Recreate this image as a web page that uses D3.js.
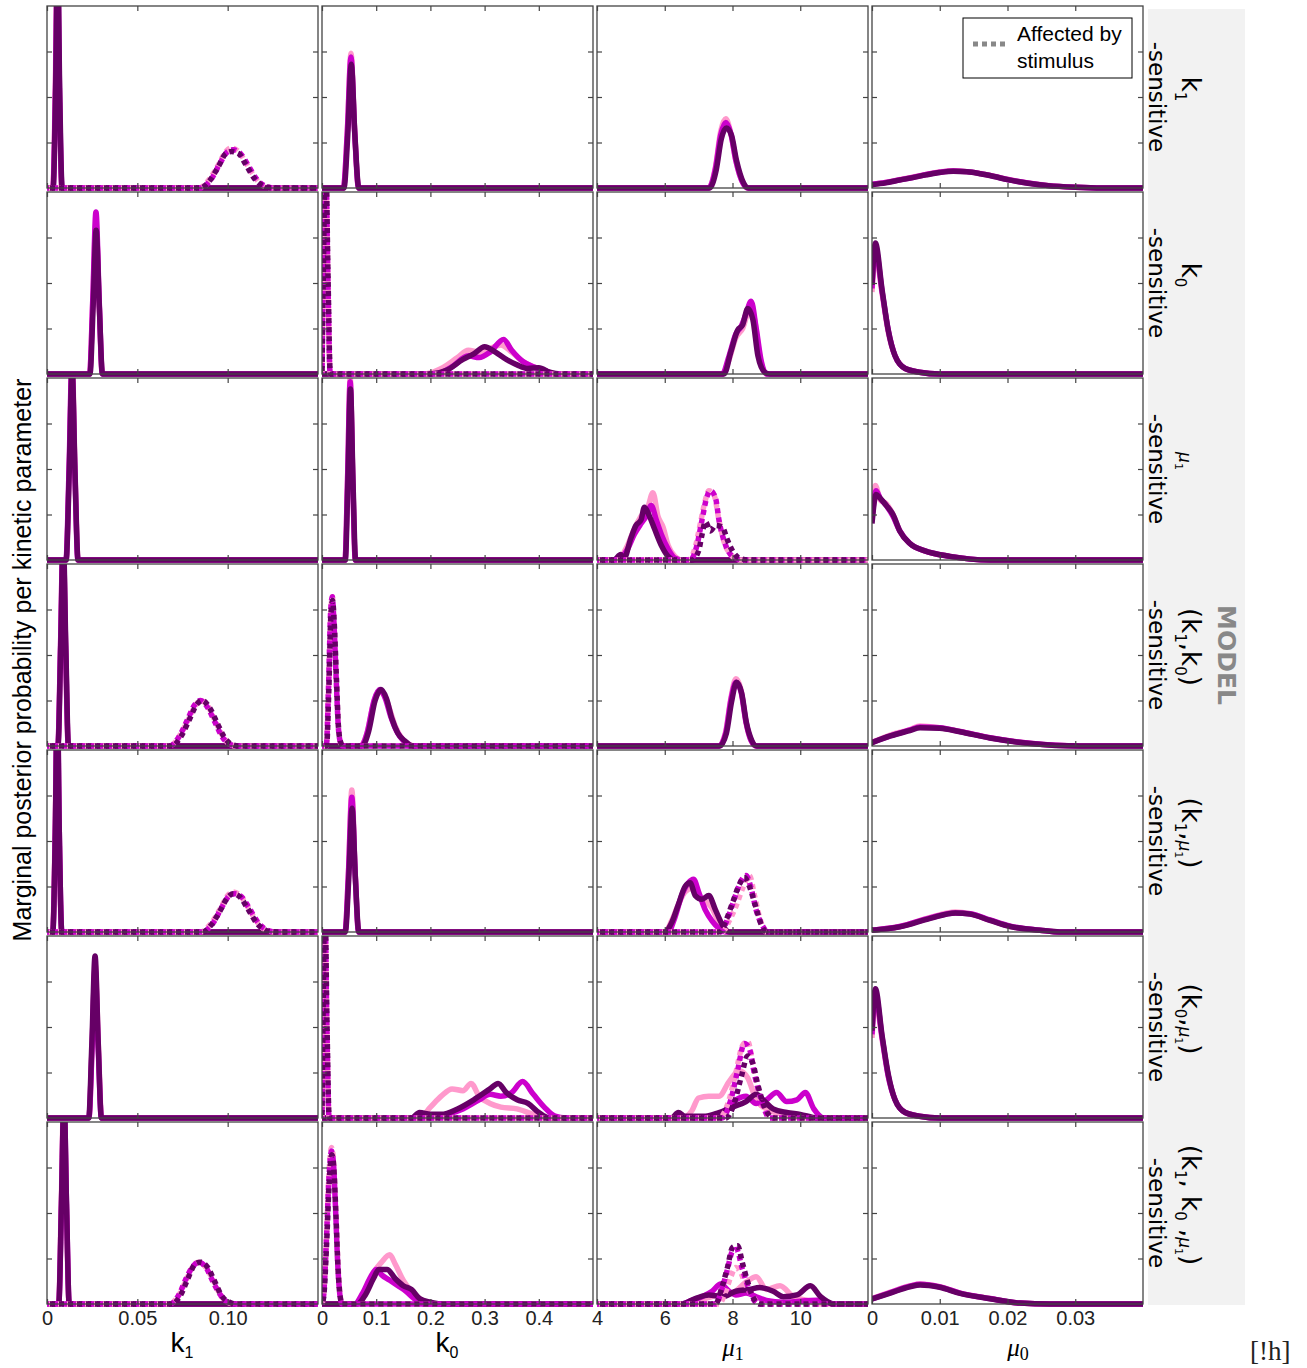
<!DOCTYPE html>
<html>
<head>
<meta charset="utf-8">
<script src="https://cdn.jsdelivr.net/npm/d3@7"></script>
<style>
  body { margin: 0; background: #fff; }
</style>
</head>
<body>
<div id="chart"></div>
<script>
// ---- data ----
const seriesNames = ["run 1", "run 2", "run 3"];
const seriesColors = ["#ff99cc", "#cc00cc", "#660066"];

const params = ["k1", "k0", "mu1", "mu0"];
const xDomains = [[0, 0.15], [0, 0.5], [4, 12], [0, 0.04]];
const xTicks = [[0, 0.05, 0.10], [0, 0.1, 0.2, 0.3, 0.4], [4, 6, 8, 10], [0, 0.01, 0.02, 0.03]];
const xTickLabels = [["0", "0.05", "0.10"], ["0", "0.1", "0.2", "0.3", "0.4"], ["4", "6", "8", "10"], ["0", "0.01", "0.02", "0.03"]];
const yTicks = [0.25, 0.5, 0.75];

// row labels, as [text, kind] pieces
const modelLabels = [
  [["k", ""], ["1", "sub"]],
  [["k", ""], ["0", "sub"]],
  [["μ", "mu"], ["1", "musub"]],
  [["(k", ""], ["1", "sub"], [",k", ""], ["0", "sub"], [")", ""]],
  [["(k", ""], ["1", "sub"], [",", ""], ["μ", "mu"], ["1", "musub"], [")", ""]],
  [["(k", ""], ["0", "sub"], [",", ""], ["μ", "mu"], ["1", "musub"], [")", ""]],
  [["(k", ""], ["1", "sub"], [", k", ""], ["0", "sub"], [" ,", ""], ["μ", "mu"], ["1", "musub"], [")", ""]]
];

// curves: [row, series, dotted, [[x, relative density], ...]]
const k1Curves = [
  [0,0,0,[[0,0],[0.0032,0],[0.0046,0.55],[0.0057,1.3],[0.0068,0.55],[0.0082,0],[0.15,0]]],
  [0,1,0,[[0,0],[0.0033,0],[0.0047,0.55],[0.0058,1.3],[0.0069,0.55],[0.0083,0],[0.15,0]]],
  [0,2,0,[[0,0],[0.0034,0],[0.0048,0.55],[0.0059,1.3],[0.007,0.55],[0.0084,0],[0.15,0]]],
  [0,0,1,[[0,0],[0.084,0],[0.09,0.05],[0.095,0.13],[0.099,0.2],[0.102,0.22],[0.106,0.2],[0.11,0.14],[0.115,0.06],[0.12,0.01],[0.125,0],[0.15,0]]],
  [0,1,1,[[0,0],[0.085,0],[0.091,0.05],[0.096,0.14],[0.1,0.2],[0.103,0.21],[0.107,0.19],[0.111,0.13],[0.116,0.05],[0.121,0.01],[0.126,0],[0.15,0]]],
  [0,2,1,[[0,0],[0.085,0],[0.09,0.04],[0.095,0.12],[0.099,0.19],[0.102,0.2],[0.106,0.19],[0.11,0.13],[0.115,0.05],[0.12,0.01],[0.125,0],[0.15,0]]],
  [1,0,0,[[0,0],[0.0236,0],[0.0253,0.38],[0.0271,0.83],[0.0289,0.38],[0.0306,0],[0.15,0]]],
  [1,1,0,[[0,0],[0.0236,0],[0.0253,0.4],[0.0271,0.89],[0.0289,0.4],[0.0306,0],[0.15,0]]],
  [1,2,0,[[0,0],[0.0238,0],[0.0255,0.36],[0.0272,0.79],[0.029,0.36],[0.0307,0],[0.15,0]]],
  [2,0,0,[[0,0],[0.0106,0],[0.0123,0.5],[0.0139,1.1],[0.0155,0.5],[0.0172,0],[0.15,0]]],
  [2,1,0,[[0,0],[0.0105,0],[0.0122,0.5],[0.0138,1.08],[0.0154,0.5],[0.0171,0],[0.15,0]]],
  [2,2,0,[[0,0],[0.0106,0],[0.0123,0.48],[0.0139,1.05],[0.0155,0.48],[0.0172,0],[0.15,0]]],
  [3,0,0,[[0,0],[0.006,0],[0.0075,0.55],[0.0089,1.15],[0.0103,0.55],[0.0118,0],[0.15,0]]],
  [3,1,0,[[0,0],[0.006,0],[0.0075,0.55],[0.0089,1.15],[0.0103,0.55],[0.0118,0],[0.15,0]]],
  [3,2,0,[[0,0],[0.0061,0],[0.0076,0.55],[0.009,1.15],[0.0104,0.55],[0.0119,0],[0.15,0]]],
  [3,0,1,[[0,0],[0.068,0],[0.073,0.05],[0.078,0.14],[0.082,0.22],[0.085,0.25],[0.089,0.22],[0.093,0.14],[0.097,0.06],[0.101,0.01],[0.105,0],[0.15,0]]],
  [3,1,1,[[0,0],[0.068,0],[0.073,0.05],[0.078,0.15],[0.082,0.23],[0.085,0.25],[0.089,0.21],[0.093,0.13],[0.097,0.05],[0.101,0.01],[0.105,0],[0.15,0]]],
  [3,2,1,[[0,0],[0.069,0],[0.074,0.05],[0.079,0.15],[0.083,0.23],[0.086,0.25],[0.09,0.21],[0.094,0.13],[0.098,0.05],[0.102,0.01],[0.106,0],[0.15,0]]],
  [4,0,0,[[0,0],[0.0031,0],[0.0045,0.55],[0.0056,1.3],[0.0067,0.55],[0.0081,0],[0.15,0]]],
  [4,1,0,[[0,0],[0.0032,0],[0.0046,0.55],[0.0057,1.3],[0.0068,0.55],[0.0082,0],[0.15,0]]],
  [4,2,0,[[0,0],[0.0032,0],[0.0046,0.55],[0.0057,1.3],[0.0068,0.55],[0.0082,0],[0.15,0]]],
  [4,0,1,[[0,0],[0.085,0],[0.091,0.05],[0.096,0.13],[0.1,0.2],[0.103,0.22],[0.107,0.2],[0.111,0.14],[0.116,0.06],[0.121,0.01],[0.126,0],[0.15,0]]],
  [4,1,1,[[0,0],[0.086,0],[0.092,0.05],[0.097,0.14],[0.101,0.2],[0.104,0.21],[0.108,0.19],[0.112,0.13],[0.117,0.05],[0.122,0.01],[0.127,0],[0.15,0]]],
  [4,2,1,[[0,0],[0.086,0],[0.091,0.04],[0.096,0.12],[0.1,0.19],[0.103,0.21],[0.107,0.19],[0.111,0.13],[0.116,0.05],[0.121,0.01],[0.126,0],[0.15,0]]],
  [5,0,0,[[0,0],[0.0232,0],[0.0249,0.38],[0.0267,0.84],[0.0285,0.38],[0.0302,0],[0.15,0]]],
  [5,1,0,[[0,0],[0.0232,0],[0.0249,0.37],[0.0266,0.82],[0.0284,0.37],[0.0301,0],[0.15,0]]],
  [5,2,0,[[0,0],[0.0231,0],[0.0248,0.4],[0.0266,0.89],[0.0284,0.4],[0.0301,0],[0.15,0]]],
  [6,0,0,[[0,0],[0.0064,0],[0.0079,0.55],[0.0093,1.15],[0.0107,0.55],[0.0122,0],[0.15,0]]],
  [6,1,0,[[0,0],[0.0065,0],[0.008,0.55],[0.0094,1.15],[0.0108,0.55],[0.0123,0],[0.15,0]]],
  [6,2,0,[[0,0],[0.0065,0],[0.008,0.55],[0.0094,1.15],[0.0108,0.55],[0.0123,0],[0.15,0]]],
  [6,0,1,[[0,0],[0.068,0],[0.073,0.05],[0.077,0.13],[0.081,0.21],[0.084,0.23],[0.088,0.2],[0.092,0.13],[0.096,0.05],[0.1,0.01],[0.104,0],[0.15,0]]],
  [6,1,1,[[0,0],[0.068,0],[0.073,0.05],[0.077,0.14],[0.081,0.21],[0.084,0.23],[0.088,0.2],[0.092,0.12],[0.096,0.05],[0.1,0.01],[0.104,0],[0.15,0]]],
  [6,2,1,[[0,0],[0.069,0],[0.074,0.05],[0.078,0.14],[0.082,0.22],[0.085,0.23],[0.089,0.2],[0.093,0.12],[0.097,0.04],[0.101,0.01],[0.105,0],[0.15,0]]]
];

const k0Curves = [
  [0,0,0,[[0,0],[0.0395,0],[0.0468,0.32],[0.0535,0.74],[0.0602,0.32],[0.0675,0],[0.5,0]]],
  [0,1,0,[[0,0],[0.0395,0],[0.0468,0.31],[0.0535,0.72],[0.0602,0.31],[0.0675,0],[0.5,0]]],
  [0,2,0,[[0,0],[0.0405,0],[0.0475,0.29],[0.054,0.68],[0.0607,0.29],[0.068,0],[0.5,0]]],
  [1,0,0,[[0,0],[0.19,0],[0.22,0.03],[0.25,0.09],[0.27,0.13],[0.29,0.12],[0.31,0.14],[0.33,0.16],[0.35,0.12],[0.37,0.07],[0.39,0.04],[0.41,0.02],[0.43,0],[0.5,0]]],
  [1,1,0,[[0,0],[0.21,0],[0.24,0.04],[0.27,0.1],[0.29,0.09],[0.31,0.12],[0.335,0.19],[0.35,0.13],[0.37,0.07],[0.39,0.04],[0.41,0.02],[0.43,0],[0.5,0]]],
  [1,2,0,[[0,0],[0.2,0],[0.23,0.02],[0.26,0.08],[0.28,0.11],[0.3,0.15],[0.32,0.12],[0.34,0.08],[0.36,0.05],[0.38,0.03],[0.4,0.035],[0.42,0.01],[0.44,0],[0.5,0]]],
  [1,0,1,[[0,0],[0.002,0.5],[0.0065,1.2],[0.011,0.5],[0.015,0],[0.5,0]]],
  [1,1,1,[[0,0],[0.002,0.5],[0.0065,1.2],[0.011,0.5],[0.015,0],[0.5,0]]],
  [1,2,1,[[0,0],[0.0022,0.5],[0.0068,1.2],[0.0113,0.5],[0.0153,0],[0.5,0]]],
  [2,0,0,[[0,0],[0.0425,0],[0.0472,0.45],[0.052,1.0],[0.0568,0.45],[0.0615,0],[0.5,0]]],
  [2,1,0,[[0,0],[0.0425,0],[0.0472,0.44],[0.052,0.98],[0.0568,0.44],[0.0615,0],[0.5,0]]],
  [2,2,0,[[0,0],[0.043,0],[0.0477,0.42],[0.0525,0.94],[0.0573,0.42],[0.062,0],[0.5,0]]],
  [3,0,0,[[0,0],[0.07,0],[0.082,0.06],[0.094,0.22],[0.105,0.3],[0.115,0.28],[0.125,0.2],[0.135,0.11],[0.148,0.04],[0.16,0.01],[0.17,0],[0.5,0]]],
  [3,1,0,[[0,0],[0.072,0],[0.084,0.08],[0.096,0.25],[0.107,0.31],[0.117,0.26],[0.127,0.16],[0.138,0.08],[0.15,0.03],[0.165,0],[0.5,0]]],
  [3,2,0,[[0,0],[0.074,0],[0.086,0.08],[0.098,0.25],[0.109,0.31],[0.119,0.26],[0.129,0.15],[0.14,0.07],[0.152,0.03],[0.168,0],[0.5,0]]],
  [3,0,1,[[0,0],[0.008,0],[0.012,0.3],[0.016,0.72],[0.019,0.82],[0.022,0.7],[0.026,0.4],[0.03,0.12],[0.034,0.02],[0.038,0],[0.5,0]]],
  [3,1,1,[[0,0],[0.008,0],[0.012,0.32],[0.016,0.74],[0.019,0.82],[0.022,0.68],[0.026,0.38],[0.03,0.11],[0.034,0.02],[0.038,0],[0.5,0]]],
  [3,2,1,[[0,0],[0.0085,0],[0.0125,0.3],[0.0165,0.72],[0.0195,0.8],[0.0225,0.68],[0.0265,0.38],[0.0305,0.1],[0.0345,0.02],[0.0385,0],[0.5,0]]],
  [4,0,0,[[0,0],[0.0425,0],[0.0488,0.33],[0.055,0.78],[0.0612,0.33],[0.0675,0],[0.5,0]]],
  [4,1,0,[[0,0],[0.0425,0],[0.0488,0.32],[0.055,0.74],[0.0612,0.32],[0.0675,0],[0.5,0]]],
  [4,2,0,[[0,0],[0.043,0],[0.0493,0.29],[0.0555,0.68],[0.0617,0.29],[0.068,0],[0.5,0]]],
  [5,0,0,[[0,0],[0.18,0],[0.2,0.06],[0.22,0.12],[0.24,0.16],[0.26,0.15],[0.275,0.19],[0.29,0.12],[0.31,0.08],[0.33,0.06],[0.36,0.05],[0.39,0.02],[0.42,0],[0.5,0]]],
  [5,1,0,[[0,0],[0.2,0],[0.23,0.02],[0.26,0.05],[0.29,0.1],[0.31,0.13],[0.33,0.12],[0.35,0.14],[0.37,0.2],[0.39,0.13],[0.41,0.06],[0.43,0.01],[0.45,0],[0.5,0]]],
  [5,2,0,[[0,0],[0.165,0],[0.18,0.03],[0.2,0.02],[0.22,0.02],[0.25,0.05],[0.28,0.1],[0.31,0.16],[0.325,0.19],[0.34,0.14],[0.36,0.1],[0.38,0.08],[0.4,0.03],[0.42,0],[0.5,0]]],
  [5,0,1,[[0,0],[0.0015,0.5],[0.005,1.2],[0.009,0.5],[0.013,0],[0.5,0]]],
  [5,1,1,[[0,0],[0.0015,0.5],[0.005,1.2],[0.009,0.5],[0.013,0],[0.5,0]]],
  [5,2,1,[[0,0],[0.0017,0.5],[0.0053,1.2],[0.0093,0.5],[0.0133,0],[0.5,0]]],
  [6,0,0,[[0,0],[0.065,0],[0.08,0.06],[0.095,0.17],[0.11,0.23],[0.125,0.27],[0.135,0.22],[0.15,0.13],[0.165,0.07],[0.18,0.03],[0.2,0],[0.5,0]]],
  [6,1,0,[[0,0],[0.06,0],[0.075,0.06],[0.09,0.15],[0.1,0.19],[0.11,0.16],[0.125,0.13],[0.14,0.1],[0.155,0.07],[0.17,0.03],[0.19,0],[0.5,0]]],
  [6,2,0,[[0,0],[0.065,0],[0.08,0.05],[0.095,0.14],[0.105,0.19],[0.12,0.19],[0.135,0.14],[0.15,0.1],[0.165,0.08],[0.18,0.03],[0.2,0.01],[0.22,0],[0.5,0]]],
  [6,0,1,[[0,0],[0.003,0.05],[0.008,0.35],[0.013,0.72],[0.0175,0.86],[0.021,0.8],[0.025,0.55],[0.029,0.25],[0.033,0.06],[0.037,0],[0.5,0]]],
  [6,1,1,[[0,0],[0.003,0.05],[0.008,0.34],[0.013,0.7],[0.0175,0.84],[0.021,0.78],[0.025,0.52],[0.029,0.22],[0.033,0.05],[0.037,0],[0.5,0]]],
  [6,2,1,[[0,0],[0.0035,0.05],[0.0085,0.33],[0.0135,0.68],[0.018,0.82],[0.0215,0.76],[0.0255,0.5],[0.0295,0.2],[0.0335,0.04],[0.0375,0],[0.5,0]]]
];

const mu1Curves = [
  [0,0,0,[[4,0],[7.3,0],[7.5,0.12],[7.65,0.31],[7.8,0.38],[7.95,0.3],[8.1,0.15],[8.3,0.03],[8.45,0],[12,0]]],
  [0,1,0,[[4,0],[7.3,0],[7.5,0.11],[7.65,0.29],[7.8,0.36],[7.95,0.3],[8.1,0.15],[8.3,0.03],[8.45,0],[12,0]]],
  [0,2,0,[[4,0],[7.32,0],[7.52,0.1],[7.67,0.27],[7.82,0.33],[7.97,0.29],[8.12,0.15],[8.32,0.03],[8.47,0],[12,0]]],
  [1,0,0,[[4,0],[7.7,0],[7.9,0.08],[8.1,0.2],[8.3,0.25],[8.5,0.35],[8.65,0.3],[8.8,0.1],[9.0,0],[12,0]]],
  [1,1,0,[[4,0],[7.7,0],[7.9,0.1],[8.1,0.22],[8.25,0.26],[8.4,0.33],[8.55,0.4],[8.7,0.25],[8.85,0.07],[9.0,0],[12,0]]],
  [1,2,0,[[4,0],[7.75,0],[7.95,0.12],[8.15,0.24],[8.3,0.27],[8.45,0.36],[8.6,0.3],[8.75,0.1],[8.95,0.01],[9.1,0],[12,0]]],
  [2,0,0,[[4,0],[4.6,0],[4.9,0.08],[5.1,0.17],[5.3,0.24],[5.5,0.29],[5.65,0.37],[5.8,0.24],[5.95,0.18],[6.1,0.08],[6.3,0.02],[6.5,0],[12,0]]],
  [2,1,0,[[4,0],[4.6,0],[4.9,0.06],[5.1,0.14],[5.3,0.2],[5.45,0.24],[5.6,0.3],[5.75,0.22],[5.9,0.14],[6.1,0.06],[6.3,0.01],[6.5,0],[12,0]]],
  [2,2,0,[[4,0],[4.5,0],[4.7,0.03],[4.8,0.01],[5.0,0.12],[5.15,0.19],[5.3,0.22],[5.4,0.29],[5.55,0.24],[5.7,0.17],[5.9,0.08],[6.1,0.02],[6.3,0],[12,0]]],
  [2,0,1,[[4,0],[6.7,0],[6.9,0.07],[7.05,0.2],[7.2,0.33],[7.3,0.38],[7.45,0.36],[7.6,0.22],[7.75,0.1],[7.95,0.03],[8.2,0],[12,0]]],
  [2,1,1,[[4,0],[6.75,0],[6.95,0.08],[7.1,0.22],[7.25,0.35],[7.35,0.38],[7.5,0.34],[7.6,0.22],[7.8,0.08],[8.0,0.02],[8.3,0],[12,0]]],
  [2,2,1,[[4,0],[6.8,0],[7.0,0.05],[7.1,0.14],[7.2,0.21],[7.35,0.16],[7.5,0.19],[7.7,0.18],[7.85,0.11],[8.0,0.05],[8.2,0.01],[8.5,0],[12,0]]],
  [3,0,0,[[4,0],[7.6,0],[7.8,0.08],[7.95,0.26],[8.1,0.37],[8.25,0.31],[8.4,0.13],[8.55,0.03],[8.7,0],[12,0]]],
  [3,1,0,[[4,0],[7.6,0],[7.8,0.07],[7.95,0.25],[8.1,0.35],[8.25,0.3],[8.4,0.13],[8.55,0.03],[8.7,0],[12,0]]],
  [3,2,0,[[4,0],[7.62,0],[7.82,0.07],[7.97,0.24],[8.12,0.35],[8.27,0.29],[8.42,0.12],[8.57,0.03],[8.72,0],[12,0]]],
  [4,0,0,[[4,0],[6.0,0],[6.2,0.06],[6.4,0.15],[6.6,0.22],[6.8,0.24],[7.0,0.2],[7.2,0.17],[7.4,0.13],[7.6,0.05],[7.8,0],[12,0]]],
  [4,1,0,[[4,0],[6.1,0],[6.3,0.08],[6.5,0.2],[6.7,0.27],[6.85,0.29],[7.0,0.22],[7.2,0.12],[7.4,0.06],[7.6,0.02],[7.8,0],[12,0]]],
  [4,2,0,[[4,0],[6.0,0],[6.2,0.05],[6.4,0.15],[6.6,0.25],[6.75,0.27],[6.9,0.2],[7.1,0.18],[7.3,0.2],[7.5,0.12],[7.7,0.04],[7.9,0],[12,0]]],
  [4,0,1,[[4,0],[7.7,0],[7.9,0.06],[8.1,0.14],[8.3,0.24],[8.5,0.31],[8.65,0.2],[8.8,0.08],[9.0,0],[12,0]]],
  [4,1,1,[[4,0],[7.65,0],[7.85,0.07],[8.05,0.18],[8.25,0.28],[8.4,0.31],[8.55,0.24],[8.7,0.12],[8.9,0.03],[9.05,0],[12,0]]],
  [4,2,1,[[4,0],[7.6,0],[7.8,0.06],[8.0,0.16],[8.2,0.26],[8.35,0.3],[8.5,0.25],[8.7,0.13],[8.85,0.04],[9.0,0],[12,0]]],
  [5,0,0,[[4,0],[6.5,0],[6.8,0.04],[7.0,0.11],[7.3,0.12],[7.6,0.12],[7.9,0.2],[8.2,0.26],[8.45,0.22],[8.7,0.1],[9.0,0.05],[9.5,0.02],[10,0],[12,0]]],
  [5,1,0,[[4,0],[7.3,0],[7.7,0.03],[8.1,0.1],[8.4,0.12],[8.7,0.08],[9.0,0.1],[9.3,0.14],[9.6,0.09],[9.9,0.1],[10.15,0.14],[10.4,0.05],[10.7,0],[12,0]]],
  [5,2,0,[[4,0],[6.2,0],[6.4,0.03],[6.6,0.01],[7.2,0.01],[7.6,0.03],[8.0,0.06],[8.4,0.09],[8.7,0.13],[8.9,0.1],[9.2,0.05],[9.6,0.03],[10.0,0.02],[10.5,0],[12,0]]],
  [5,0,1,[[4,0],[7.6,0],[7.9,0.1],[8.1,0.25],[8.3,0.4],[8.45,0.42],[8.6,0.3],[8.8,0.12],[9.0,0.03],[9.2,0],[12,0]]],
  [5,1,1,[[4,0],[7.7,0],[7.95,0.1],[8.15,0.26],[8.35,0.41],[8.5,0.38],[8.65,0.24],[8.85,0.1],[9.1,0],[12,0]]],
  [5,2,1,[[4,0],[7.8,0],[8.05,0.08],[8.25,0.22],[8.45,0.34],[8.6,0.3],[8.75,0.18],[8.95,0.06],[9.2,0],[12,0]]],
  [6,0,0,[[4,0],[6.7,0],[7.2,0.03],[7.6,0.05],[8.0,0.06],[8.4,0.12],[8.7,0.15],[9.0,0.08],[9.4,0.1],[9.8,0.04],[10.2,0.02],[10.6,0],[12,0]]],
  [6,1,0,[[4,0],[6.5,0],[6.8,0.02],[7.1,0.04],[7.4,0.07],[7.65,0.11],[7.9,0.07],[8.1,0.05],[8.4,0.06],[8.7,0.04],[9.0,0.02],[9.5,0.01],[10.5,0.02],[11,0],[12,0]]],
  [6,2,0,[[4,0],[6.5,0],[6.9,0.03],[7.3,0.05],[7.7,0.04],[8.1,0.07],[8.5,0.08],[8.8,0.09],[9.2,0.07],[9.5,0.04],[9.9,0.05],[10.3,0.1],[10.6,0.04],[11,0],[12,0]]],
  [6,0,1,[[4,0],[7.6,0],[7.8,0.07],[7.95,0.15],[8.1,0.2],[8.25,0.17],[8.4,0.1],[8.6,0.04],[8.8,0],[12,0]]],
  [6,1,1,[[4,0],[7.5,0],[7.7,0.09],[7.85,0.19],[8.0,0.29],[8.12,0.3],[8.28,0.2],[8.45,0.1],[8.6,0.03],[8.8,0],[12,0]]],
  [6,2,1,[[4,0],[7.5,0],[7.7,0.1],[7.85,0.2],[8.0,0.31],[8.15,0.32],[8.3,0.22],[8.45,0.12],[8.6,0.04],[8.8,0],[12,0]]]
];

const mu0Curves = [
  [0,0,0,[[0,0.02],[0.002,0.03],[0.004,0.045],[0.006,0.06],[0.008,0.075],[0.01,0.088],[0.012,0.095],[0.014,0.09],[0.016,0.08],[0.018,0.065],[0.02,0.048],[0.023,0.028],[0.026,0.014],[0.03,0.004],[0.034,0],[0.04,0]]],
  [0,1,0,[[0,0.02],[0.002,0.03],[0.004,0.044],[0.006,0.058],[0.008,0.074],[0.01,0.086],[0.012,0.093],[0.014,0.09],[0.016,0.079],[0.018,0.064],[0.02,0.047],[0.023,0.027],[0.026,0.013],[0.03,0.004],[0.034,0],[0.04,0]]],
  [0,2,0,[[0,0.018],[0.002,0.028],[0.004,0.043],[0.006,0.057],[0.008,0.072],[0.01,0.085],[0.012,0.092],[0.014,0.089],[0.016,0.078],[0.018,0.063],[0.02,0.046],[0.023,0.026],[0.026,0.013],[0.03,0.004],[0.034,0],[0.04,0]]],
  [1,0,0,[[0,0.45],[0.0005,0.66],[0.0015,0.44],[0.0024,0.23],[0.0034,0.1],[0.0049,0.03],[0.007,0.01],[0.01,0],[0.04,0]]],
  [1,1,0,[[0,0.47],[0.0005,0.69],[0.0015,0.45],[0.0024,0.24],[0.0034,0.1],[0.0049,0.03],[0.007,0.01],[0.01,0],[0.04,0]]],
  [1,2,0,[[0,0.49],[0.0005,0.72],[0.0015,0.46],[0.0024,0.24],[0.0034,0.1],[0.0049,0.03],[0.007,0.01],[0.01,0],[0.04,0]]],
  [2,0,0,[[0,0.25],[0.0005,0.41],[0.0012,0.33],[0.0021,0.31],[0.0031,0.25],[0.0041,0.16],[0.0056,0.09],[0.0078,0.05],[0.0115,0.02],[0.0174,0],[0.04,0]]],
  [2,1,0,[[0,0.22],[0.0006,0.38],[0.0012,0.34],[0.0021,0.3],[0.0031,0.24],[0.0041,0.16],[0.0056,0.09],[0.0078,0.05],[0.0115,0.02],[0.0174,0],[0.04,0]]],
  [2,2,0,[[0,0.2],[0.0006,0.36],[0.0012,0.34],[0.0021,0.3],[0.0031,0.25],[0.0041,0.16],[0.0056,0.09],[0.0078,0.05],[0.0115,0.02],[0.0174,0],[0.04,0]]],
  [3,0,0,[[0,0.02],[0.0027,0.06],[0.0056,0.09],[0.0071,0.11],[0.01,0.1],[0.013,0.08],[0.0174,0.045],[0.0233,0.015],[0.0307,0],[0.04,0]]],
  [3,1,0,[[0,0.02],[0.0027,0.055],[0.0056,0.088],[0.0071,0.105],[0.01,0.1],[0.013,0.08],[0.0174,0.045],[0.0233,0.015],[0.0307,0],[0.04,0]]],
  [3,2,0,[[0,0.018],[0.0027,0.055],[0.0056,0.085],[0.0071,0.1],[0.01,0.098],[0.013,0.078],[0.0174,0.044],[0.0233,0.014],[0.0307,0],[0.04,0]]],
  [4,0,0,[[0,0.01],[0.0041,0.03],[0.0086,0.08],[0.0123,0.11],[0.0145,0.1],[0.0174,0.065],[0.0204,0.03],[0.0248,0.01],[0.0277,0],[0.04,0]]],
  [4,1,0,[[0,0.01],[0.0041,0.03],[0.0086,0.078],[0.0123,0.105],[0.0145,0.1],[0.0174,0.066],[0.0204,0.032],[0.0248,0.01],[0.0277,0],[0.04,0]]],
  [4,2,0,[[0,0.01],[0.0041,0.028],[0.0086,0.075],[0.0123,0.105],[0.0145,0.098],[0.0174,0.064],[0.0204,0.03],[0.0248,0.01],[0.0277,0],[0.04,0]]],
  [5,0,0,[[0,0.44],[0.0005,0.65],[0.0015,0.43],[0.0024,0.23],[0.0034,0.1],[0.0049,0.03],[0.007,0.01],[0.01,0],[0.04,0]]],
  [5,1,0,[[0,0.46],[0.0005,0.68],[0.0015,0.44],[0.0024,0.23],[0.0034,0.1],[0.0049,0.03],[0.007,0.01],[0.01,0],[0.04,0]]],
  [5,2,0,[[0,0.48],[0.0005,0.71],[0.0015,0.45],[0.0024,0.24],[0.0034,0.1],[0.0049,0.03],[0.007,0.01],[0.01,0],[0.04,0]]],
  [6,0,0,[[0,0.03],[0.0027,0.065],[0.0056,0.1],[0.0071,0.11],[0.01,0.095],[0.013,0.06],[0.0174,0.03],[0.0218,0.005],[0.0263,0],[0.04,0]]],
  [6,1,0,[[0,0.028],[0.0027,0.062],[0.0056,0.098],[0.0071,0.108],[0.01,0.094],[0.013,0.06],[0.0174,0.03],[0.0218,0.005],[0.0263,0],[0.04,0]]],
  [6,2,0,[[0,0.028],[0.0027,0.06],[0.0056,0.095],[0.0071,0.105],[0.01,0.092],[0.013,0.058],[0.0174,0.029],[0.0218,0.005],[0.0263,0],[0.04,0]]]
];

const colCurves = [k1Curves, k0Curves, mu1Curves, mu0Curves];

// ---- layout ----
const W = 1307, H = 1368;
const padLeft = 47, padTop = 6, pw = 271, ph = 182, colStep = 275, rowStep = 186;
const sans = "'Liberation Sans', Arial, sans-serif";
const dejavu = "'DejaVu Sans', sans-serif";
const serif = "'Liberation Serif', 'DejaVu Serif', serif";

const svg = d3.select("#chart").append("svg")
  .attr("width", W).attr("height", H)
  .style("font-family", sans);

const y = d3.scaleLinear().domain([0, 1]).range([ph, 0]);
const color = d3.scaleOrdinal().domain(d3.range(seriesNames.length)).range(seriesColors);

// gray band with the model labels
svg.append("rect")
  .attr("x", 1148).attr("y", 9).attr("width", 97).attr("height", 1296)
  .attr("fill", "#f2f2f2");

modelLabels.forEach(function (pieces, r) {
  var cy = padTop + r * rowStep + ph / 2;

  var t = svg.append("text")
    .attr("transform", "translate(1182," + (cy - 8) + ") rotate(90)")
    .attr("text-anchor", "middle")
    .style("font-family", dejavu)
    .style("font-size", "26px");
  var shift = 0;
  pieces.forEach(function (p) {
    var kind = p[1], target = 0, size = 26, style = "normal";
    if (kind === "sub") { target = 7; size = 15; }
    if (kind === "mu") { target = 3; size = 17; style = "italic"; }
    if (kind === "musub") { target = 7; size = 11; }
    t.append("tspan")
      .attr("dy", target - shift)
      .style("font-size", size + "px")
      .style("font-style", style)
      .text(p[0]);
    shift = target;
  });

  svg.append("text")
    .attr("transform", "translate(1149," + cy + ") rotate(90)")
    .attr("text-anchor", "middle")
    .style("font-family", dejavu)
    .style("font-size", "23px")
    .text("-sensitive");
});

svg.append("text")
  .attr("transform", "translate(1218," + (padTop + 3 * rowStep + ph / 2) + ") rotate(90)")
  .attr("text-anchor", "middle")
  .style("font-family", dejavu)
  .style("font-size", "25px")
  .style("font-weight", "bold")
  .attr("fill", "#888")
  .text("MODEL");

// panels
var line = d3.line().curve(d3.curveMonotoneX);

modelLabels.forEach(function (m, r) {
  params.forEach(function (p, c) {
    var x = d3.scaleLinear().domain(xDomains[c]).range([0, pw]);
    var g = svg.append("g")
      .attr("transform", "translate(" + (padLeft + c * colStep) + "," + (padTop + r * rowStep) + ")");

    var id = "clip-" + r + "-" + c;
    g.append("clipPath").attr("id", id)
      .append("rect").attr("x", 0).attr("y", 0).attr("width", pw).attr("height", ph + 4);

    line.x(function (d) { return x(d[0]); }).y(function (d) { return y(d[1]); });

    var curves = colCurves[c].filter(function (d) { return d[0] === r; })
      .sort(function (a, b) { return (a[2] - b[2]) || (a[1] - b[1]); });

    g.append("g").attr("clip-path", "url(#" + id + ")")
      .selectAll("path")
      .data(curves)
      .join("path")
      .attr("d", function (d) { return line(d[3]); })
      .attr("fill", "none")
      .attr("stroke", function (d) { return color(d[1]); })
      .attr("stroke-width", 5.5)
      .attr("stroke-linejoin", "round")
      .attr("stroke-dasharray", function (d) { return d[2] ? "5,4" : null; })
      .attr("stroke-dashoffset", function (d) { return d[2] ? d[1] * 3 : null; });

    // frame
    g.append("rect")
      .attr("width", pw).attr("height", ph)
      .attr("fill", "none").attr("stroke", "#444").attr("stroke-width", 1.3);

    // inward ticks on all sides
    var last = r === modelLabels.length - 1;
    var bottom = g.append("g").attr("transform", "translate(0," + ph + ")")
      .call(d3.axisBottom(x).tickValues(xTicks[c]).tickSize(-5).tickPadding(7)
        .tickFormat(function (d, i) { return last ? xTickLabels[c][i] : ""; }));
    var topAx = g.append("g")
      .call(d3.axisTop(x).tickValues(xTicks[c]).tickSize(-5).tickFormat(""));
    var leftAx = g.append("g")
      .call(d3.axisLeft(y).tickValues(yTicks).tickSize(-5).tickFormat(""));
    var rightAx = g.append("g").attr("transform", "translate(" + pw + ",0)")
      .call(d3.axisRight(y).tickValues(yTicks).tickSize(-5).tickFormat(""));

    [bottom, topAx, leftAx, rightAx].forEach(function (a) {
      a.select(".domain").remove();
      a.selectAll(".tick line").attr("stroke", "#444").attr("stroke-width", 1.2);
    });
    bottom.selectAll(".tick text")
      .style("font-family", sans).style("font-size", "20px").attr("fill", "#222");
  });
});

// x axis titles
var axisTitles = [
  { x: 182, y: 1352, main: "k", sub: "1", font: sans, italic: false, size: 28 },
  { x: 447, y: 1352, main: "k", sub: "0", font: sans, italic: false, size: 28 },
  { x: 733, y: 1356, main: "μ", sub: "1", font: serif, italic: true, size: 25 },
  { x: 1018, y: 1356, main: "μ", sub: "0", font: serif, italic: true, size: 25 }
];
axisTitles.forEach(function (a) {
  var t = svg.append("text")
    .attr("x", a.x).attr("y", a.y)
    .attr("text-anchor", "middle")
    .style("font-family", a.font)
    .style("font-size", a.size + "px");
  t.append("tspan").style("font-style", a.italic ? "italic" : "normal").text(a.main);
  t.append("tspan").attr("dy", a.italic ? 4 : 6).style("font-size", a.italic ? "18px" : "16px").style("font-style", "normal").text(a.sub);
});

// y axis title
svg.append("text")
  .attr("transform", "translate(31,660) rotate(-90)")
  .attr("text-anchor", "middle")
  .style("font-size", "25px")
  .text("Marginal posterior probability per kinetic parameter");

// legend
var lg = svg.append("g");
lg.append("rect")
  .attr("x", 963).attr("y", 18).attr("width", 169).attr("height", 60)
  .attr("fill", "#fff").attr("stroke", "#000").attr("stroke-width", 1);
lg.append("line")
  .attr("x1", 973).attr("x2", 1008).attr("y1", 44).attr("y2", 44)
  .attr("stroke", "#888").attr("stroke-width", 5).attr("stroke-dasharray", "5,4");
lg.append("text").attr("x", 1017).attr("y", 41).style("font-size", "21px").text("Affected by");
lg.append("text").attr("x", 1017).attr("y", 68).style("font-size", "21px").text("stimulus");

// stray latex float specifier
svg.append("text")
  .attr("x", 1250).attr("y", 1360)
  .style("font-family", serif)
  .style("font-size", "27px")
  .attr("fill", "#222")
  .text("[!h]");
</script>
</body>
</html>
